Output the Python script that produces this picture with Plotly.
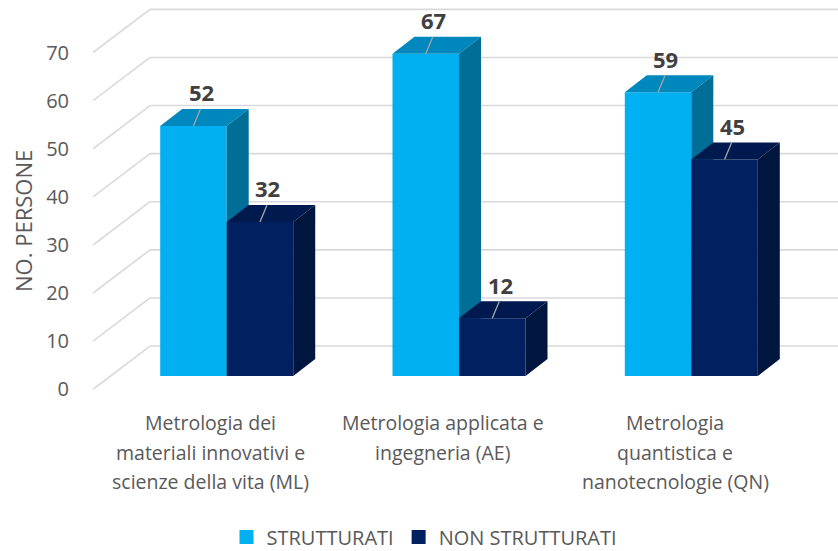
import plotly.graph_objects as go

# ---- data -------------------------------------------------------------
categories = [
    ["Metrologia dei", "materiali innovativi e", "scienze della vita (ML)"],
    ["Metrologia applicata e", "ingegneria (AE)"],
    ["Metrologia", "quantistica e", "nanotecnologie (QN)"],
]
series_names = ["STRUTTURATI", "NON STRUTTURATI"]
strutturati = [52, 67, 59]
non_strutturati = [32, 12, 45]
y_ticks = [0, 10, 20, 30, 40, 50, 60, 70]
y_title = "NO. PERSONE"

# ---- pseudo-3D geometry (axis units) ---------------------------------
BAR_W = 0.2863          # width of one bar's front face
BASE = 2.765            # front plane of the bars sits a little behind the axis edge
DEPTH_X, DEPTH_Y = 0.0947, 3.53       # bar depth vector
WALL_X0 = -0.5756                       # front edge of the side wall
WALL_DX, WALL_DY = 0.2454, 9.0          # side-wall depth vector
X_MAX = 2.6315
Y_MIN, Y_MAX = -2.22, 80.94
LABEL_DX, LABEL_DY = 0.034, 7.0         # data label offset from front-top edge
LEADER_DX, LEADER_DY = 0.030, 3.5
CAT_DX = -0.07                          # category labels sit on the front floor edge
PLOT_W, PLOT_H = 745, 400               # plot area size in px

FACE_COLORS = [
    {"front": "#00B0F0", "top": "#0087BD", "side": "#006E97"},
    {"front": "#002060", "top": "#001A50", "side": "#00163F"},
]
GRID = "#D9D9D9"
TEXT = "#595959"
FONT = "Open Sans"

fig = go.Figure()
shapes = []
annotations = []

# back wall and side wall grid lines
for v in y_ticks:
    shapes.append(dict(type="line", xref="x", yref="y", layer="below",
                       x0=WALL_X0 + WALL_DX, y0=v + WALL_DY, x1=X_MAX + 0.05, y1=v + WALL_DY,
                       line=dict(color=GRID, width=1.6)))
    shapes.append(dict(type="line", xref="x", yref="y", layer="below",
                       x0=WALL_X0, y0=v, x1=WALL_X0 + WALL_DX, y1=v + WALL_DY,
                       line=dict(color=GRID, width=1.6)))


def poly(xs, ys, color):
    fig.add_trace(go.Scatter(x=xs + [xs[0]], y=ys + [ys[0]], mode="lines",
                             fill="toself", fillcolor=color, line=dict(width=0),
                             hoverinfo="skip", showlegend=False))


series = [strutturati, non_strutturati]
for i in range(len(categories)):
    for s, vals in enumerate(series):
        v = vals[i]
        c = FACE_COLORS[s]
        xl = i - BAR_W if s == 0 else i
        xr = xl + BAR_W
        yb, yt = BASE, BASE + v
        poly([xl, xr, xr, xl], [yb, yb, yt, yt], c["front"])
        poly([xl, xr, xr + DEPTH_X, xl + DEPTH_X],
             [yt, yt, yt + DEPTH_Y, yt + DEPTH_Y], c["top"])
        poly([xr, xr + DEPTH_X, xr + DEPTH_X, xr],
             [yb, yb + DEPTH_Y, yt + DEPTH_Y, yt], c["side"])
        xm = (xl + xr) / 2
        shapes.append(dict(type="line", xref="x", yref="y", layer="above",
                           x0=xm, y0=yt, x1=xm + LEADER_DX, y1=yt + LEADER_DY,
                           line=dict(color="#A6A6A6", width=1.3)))
        annotations.append(dict(x=xm + LABEL_DX, y=yt + LABEL_DY, xref="x", yref="y",
                                text=f"<b>{v}</b>", showarrow=False,
                                xanchor="center", yanchor="middle",
                                font=dict(family=FONT, size=22, color="#404040")))

# category labels, one line each, hung below the plot area
for i, lines in enumerate(categories):
    for k, line in enumerate(lines):
        annotations.append(dict(x=i + CAT_DX, xref="x",
                                y=-(22.7 + 29.5 * k) / PLOT_H, yref="paper",
                                text=line, showarrow=False,
                                xanchor="center", yanchor="middle",
                                font=dict(family=FONT, size=19.5, color=TEXT)))

# value-axis title, centred on the 0-70 scale
annotations.append(dict(x=-70 / PLOT_W, xref="paper",
                        y=(y_ticks[0] + y_ticks[-1]) / 2, yref="y",
                        text=y_title, textangle=-90, showarrow=False,
                        xanchor="center", yanchor="middle",
                        font=dict(family=FONT, size=22, color=TEXT)))

# legend entries
for s, name in enumerate(series_names):
    fig.add_trace(go.Scatter(x=[None], y=[None], mode="markers", name=name,
                             marker=dict(symbol="square", size=14,
                                         color=FACE_COLORS[s]["front"])))

fig.update_layout(
    width=838, height=551,
    margin=dict(l=93, r=0, t=0, b=151, autoexpand=False),
    plot_bgcolor="white", paper_bgcolor="white",
    shapes=shapes, annotations=annotations,
    font=dict(family=FONT, color=TEXT),
    legend=dict(orientation="h", x=0.445, xanchor="center",
                y=-0.3425, yanchor="middle",
                font=dict(family=FONT, size=20, color=TEXT)),
    xaxis=dict(range=[WALL_X0, X_MAX], showgrid=False, zeroline=False,
               showticklabels=False, showline=False),
    yaxis=dict(range=[Y_MIN, Y_MAX], showgrid=False, zeroline=False, showline=False,
               tickvals=y_ticks, ticktext=[str(t) for t in y_ticks],
               ticks="outside", ticklen=19, tickcolor="rgba(0,0,0,0)",
               tickfont=dict(family=FONT, size=20, color=TEXT)),
)

fig.write_html("out.html")
